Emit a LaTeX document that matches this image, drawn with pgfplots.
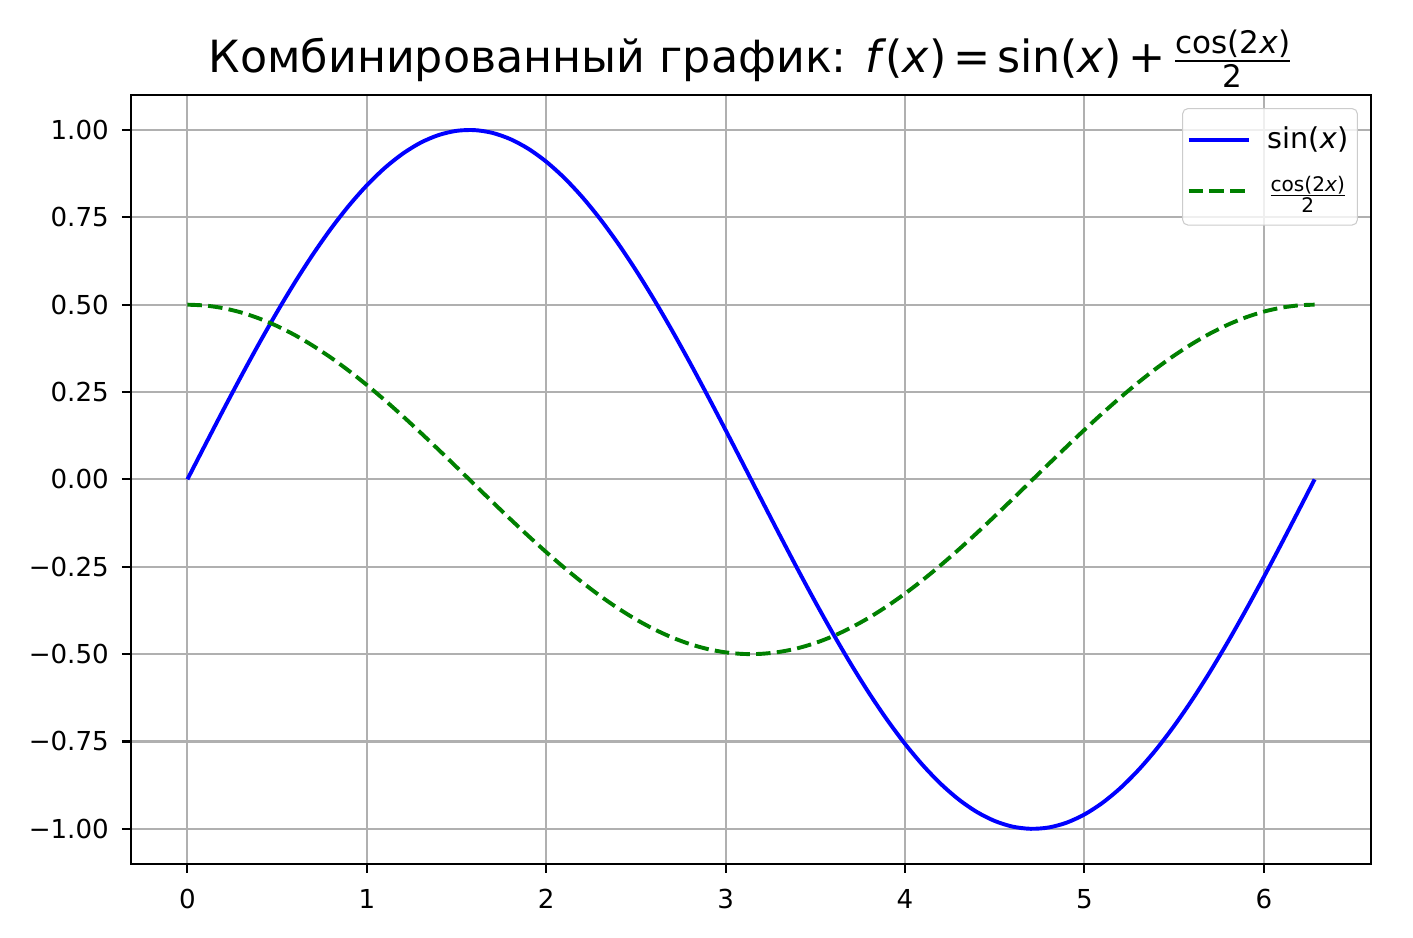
\documentclass[border=0pt]{standalone}
\usepackage{fontspec}
\setmainfont{DejaVu Sans}
\usepackage{amsmath}
\usepackage{pgfplots}
\pgfplotsset{compat=1.18}
\usepackage{pgfplotstable}
\definecolor{mplgreen}{RGB}{0,128,0}
\definecolor{gridgray}{HTML}{B0B0B0}
\pgfplotstableread{
x s c
0.0 0.0000 0.5000
0.1 0.0998 0.4975
0.2 0.1987 0.4900
0.3 0.2955 0.4777
0.4 0.3894 0.4605
0.5 0.4794 0.4388
0.6 0.5646 0.4127
0.7 0.6442 0.3824
0.8 0.7174 0.3484
0.9 0.7833 0.3108
1.0 0.8415 0.2702
1.1 0.8912 0.2268
1.2 0.9320 0.1812
1.3 0.9636 0.1337
1.4 0.9854 0.0850
1.5 0.9975 0.0354
1.6 0.9996 -0.0146
1.7 0.9917 -0.0644
1.8 0.9738 -0.1136
1.9 0.9463 -0.1616
2.0 0.9093 -0.2081
2.1 0.8632 -0.2524
2.2 0.8085 -0.2943
2.3 0.7457 -0.3331
2.4 0.6755 -0.3687
2.5 0.5985 -0.4006
2.6 0.5155 -0.4284
2.7 0.4274 -0.4520
2.8 0.3350 -0.4711
2.9 0.2392 -0.4855
3.0 0.1411 -0.4950
3.1 0.0416 -0.4996
3.2 -0.0584 -0.4991
3.3 -0.1577 -0.4937
3.4 -0.2555 -0.4834
3.5 -0.3508 -0.4682
3.6 -0.4425 -0.4484
3.7 -0.5298 -0.4240
3.8 -0.6119 -0.3955
3.9 -0.6878 -0.3629
4.0 -0.7568 -0.3268
4.1 -0.8183 -0.2874
4.2 -0.8716 -0.2451
4.3 -0.9162 -0.2004
4.4 -0.9516 -0.1536
4.5 -0.9775 -0.1054
4.6 -0.9937 -0.0561
4.7 -0.9999 -0.0062
4.8 -0.9962 0.0437
4.9 -0.9825 0.0932
5.0 -0.9589 0.1418
5.1 -0.9258 0.1890
5.2 -0.8835 0.2342
5.3 -0.8323 0.2772
5.4 -0.7728 0.3174
5.5 -0.7055 0.3544
5.6 -0.6313 0.3878
5.7 -0.5507 0.4174
5.8 -0.4646 0.4428
5.9 -0.3739 0.4638
6.0 -0.2794 0.4801
6.1 -0.1822 0.4916
6.2 -0.0831 0.4983
6.2832 0.0000 0.5000
}\datatable
\begin{document}
\begin{tikzpicture}
\useasboundingbox (-50.2pt,-28.3pt) rectangle (491.1pt,330.9pt);
\begin{axis}[
  at={(0pt,0pt)}, anchor=south west,
  scale only axis, width=475pt, height=294.5pt,
  xmin=-0.3142, xmax=6.5973, ymin=-1.1, ymax=1.1,
  xtick={0,1,2,3,4,5,6},
  xticklabels={0,1,2,3,4,5,6},
  ytick={-1,-0.75,-0.5,-0.25,0,0.25,0.5,0.75,1},
  yticklabels={−1.00,−0.75,−0.50,−0.25,0.00,0.25,0.50,0.75,1.00},
  tick pos=left, tick align=outside, major tick length=3.5pt,
  every tick/.style={black, line width=0.8pt},
  axis line style={line width=0.8pt},
  grid=major, major grid style={gridgray, line width=0.8pt},
  ticklabel style={font=\fontsize{10}{12}\selectfont},
  xticklabel style={yshift=-2.7pt},
  yticklabel style={xshift=-1.5pt},
  title={Комбинированный график: \textit{f}\kern-0.5pt(\textit{x})\hspace{2.5pt}=\hspace{2.5pt}sin(\textit{x})\hspace{2.5pt}+\hspace{2.5pt}$\frac{\text{cos(2\textit{x})}}{\text{2}}$},
  title style={font=\fontsize{17}{20}\selectfont, at={(0.5,1)}, anchor=base, yshift=2.8pt},
  legend style={at={(1,1)}, anchor=north east, xshift=-5pt, yshift=-5pt,
    draw=black!20, rounded corners=2pt, fill=white, fill opacity=0.8, text opacity=1,
    font=\fontsize{11}{13}\selectfont, row sep=5pt, inner xsep=1.5pt, inner ysep=5pt},
  legend cell align=left,
  legend image code/.code={\draw[#1] (0pt,0pt) -- (23pt,0pt);},
]
\addplot[blue, line width=1.5pt, smooth] table[x=x, y=s] {\datatable};
\addlegendentry{\hspace{4.5pt}sin(\textit{x})}
\addplot[mplgreen, line width=1.5pt, smooth, dash pattern=on 5.55pt off 2.4pt] table[x=x, y=c] {\datatable};
\addlegendentry{\hspace{4.5pt}$\frac{\text{cos(2\textit{x})}}{\text{2}}$}
\end{axis}
\end{tikzpicture}
\end{document}
